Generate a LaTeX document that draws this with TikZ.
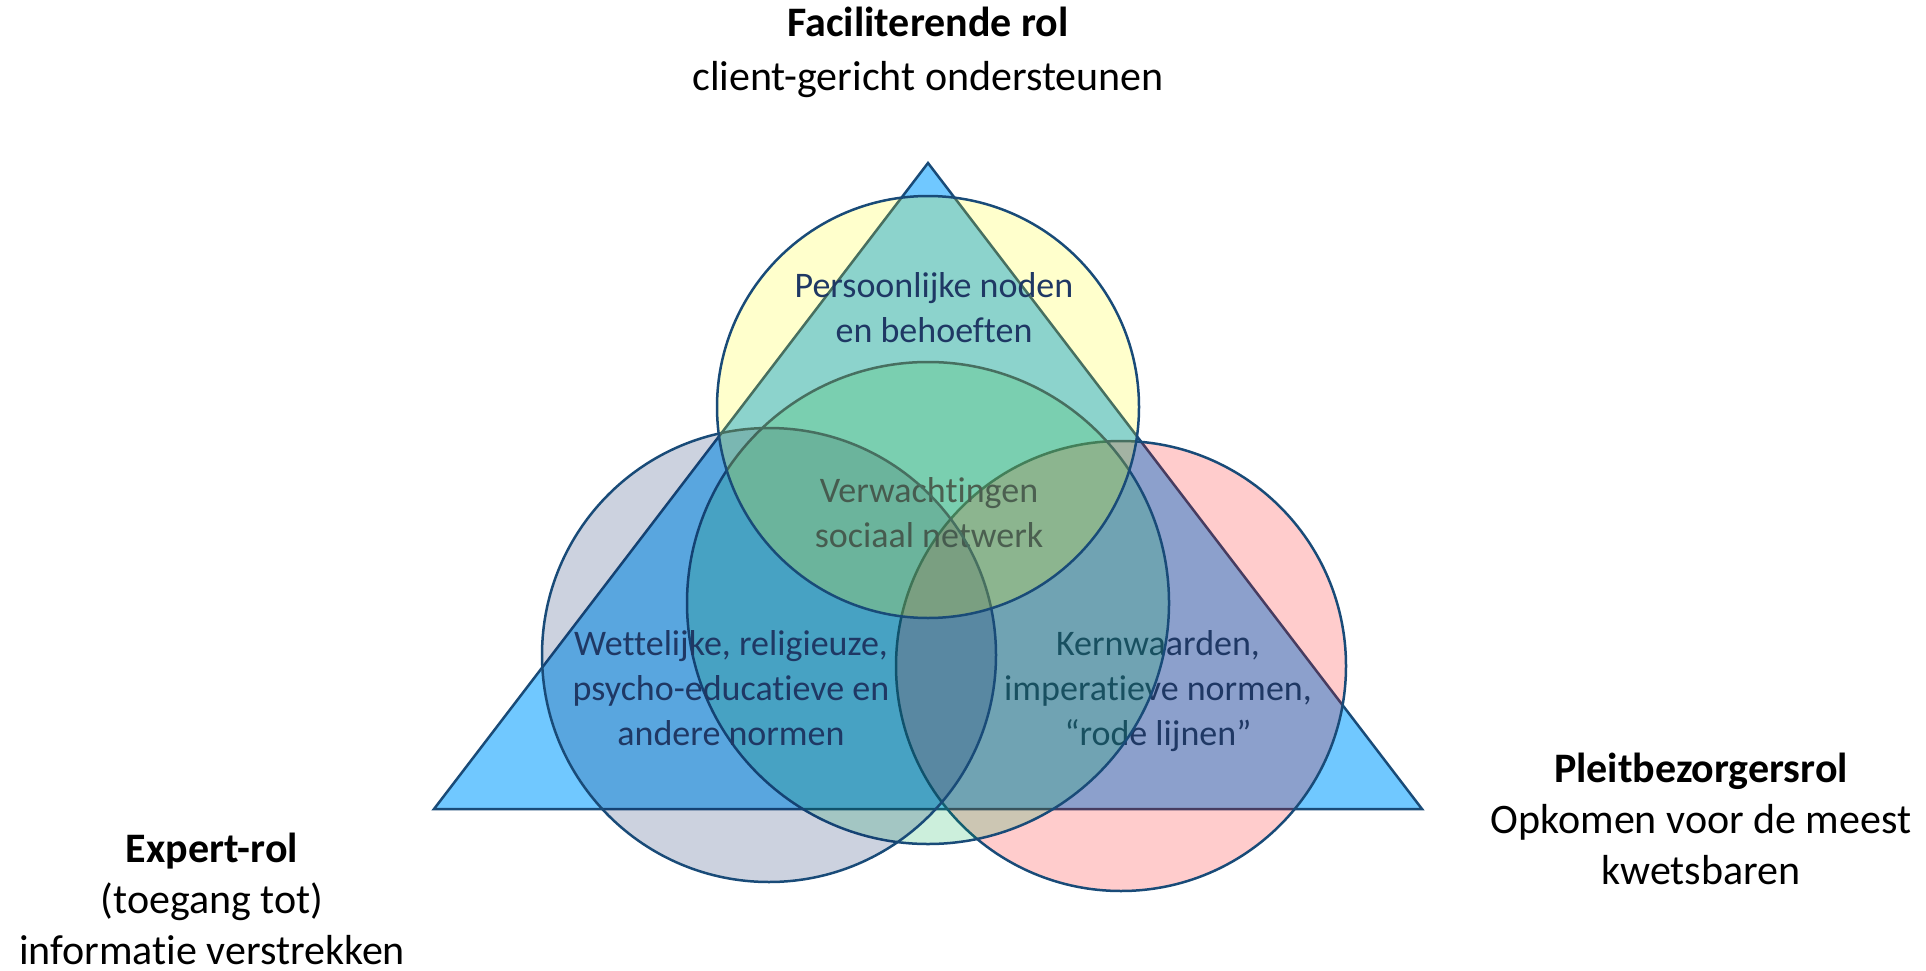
\documentclass[tikz,border=0pt]{standalone}
\usepackage{fontspec}
\setmainfont{Carlito}[Ligatures={TeX,NoCommon}]
\usepackage{tikz}
\usetikzlibrary{positioning}

\definecolor{edgeblue}{RGB}{25,75,120}
\definecolor{navytext}{RGB}{31,56,100}
\definecolor{trifill}{RGB}{112,200,255}
\definecolor{ringyellow}{RGB}{255,255,0}
\definecolor{ringgreen}{RGB}{0,176,80}
\definecolor{ringnavy}{RGB}{0,32,96}
\definecolor{ringred}{RGB}{255,0,0}

\begin{document}
\begin{tikzpicture}[x=1pt, y=-1pt,
    ring/.style={circle, draw=edgeblue, line width=2.5pt, fill opacity=0.2, inner sep=0pt},
    innertext/.style={text=navytext, align=center, anchor=base, font=\fontsize{36}{45}\selectfont},
    role/.style={align=center, anchor=base, inner sep=1pt, font=\fontsize{42}{51}\selectfont}]
\useasboundingbox (0,0) rectangle (1926,971);

\coordinate (apex) at (928,163);
\coordinate (cornerL) at (434,809);
\coordinate (cornerR) at (1422,809);
\draw[fill=trifill, draw=edgeblue, line width=2.5pt] (apex) -- (cornerR) -- (cornerL) -- cycle;

\node[ring, fill=ringred, minimum size=450pt] (rood) at (1121,666) {};
\node[innertext] (kern) at (1158,745) {Kernwaarden,\\imperatieve normen,\\“rode lijnen”};

\node[ring, fill=ringgreen, minimum size=482pt] (groen) at (928,603) {};
\node[innertext] (verw) at (929,547) {Verwachtingen\\sociaal netwerk};

\node[ring, fill=ringnavy, minimum size=454pt] (blauw) at (769,655) {};
\node[innertext] (wet) at (731,745) {Wettelijke, religieuze,\\psycho-educatieve en\\andere normen};

\node[ring, fill=ringyellow, minimum size=422pt] (geel) at (928,407) {};
\node[innertext] (pers) at (934,342) {Persoonlijke noden\\en behoeften};

\node[role] (facil) at (928,91) {\bfseries Faciliterende rol\\[3pt]client-gericht ondersteunen};
\node[role] (expert) at (212,964) {\bfseries Expert-rol\\(toegang tot)\\informatie verstrekken};
\node[role] (pleit) at (1701,884) {\bfseries Pleitbezorgersrol\\Opkomen voor de meest\\kwetsbaren};
\end{tikzpicture}
\end{document}
